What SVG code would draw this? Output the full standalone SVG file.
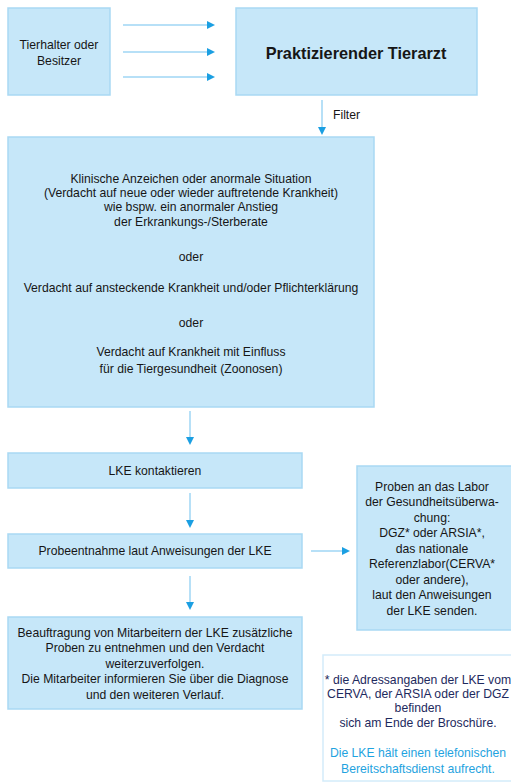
<svg xmlns="http://www.w3.org/2000/svg" width="511" height="782" viewBox="0 0 511 782">
<defs>
<marker id="ah" viewBox="0 0 8 8" refX="1" refY="4" markerWidth="8" markerHeight="8" markerUnits="userSpaceOnUse" orient="auto">
<path d="M0,0 L8,4 L0,8 Z" fill="#1b9fe2"/>
</marker>
<style>
.box{fill:#c6e7f9;stroke:#a9d9f3;stroke-width:1.5}
.note{fill:#ffffff;stroke:#d3ecfa;stroke-width:1.5}
.t{font-family:"Liberation Sans",Arial,sans-serif;font-size:12.2px;fill:#161616;text-anchor:middle}
.b{font-family:"Liberation Sans",Arial,sans-serif;font-size:16.3px;font-weight:bold;fill:#161616;text-anchor:middle}
.n{font-family:"Liberation Sans",Arial,sans-serif;font-size:12.2px;fill:#1e2a5e;text-anchor:middle}
.nb{font-family:"Liberation Sans",Arial,sans-serif;font-size:12.2px;fill:#1fa3e0;text-anchor:middle}
.c{stroke:#9fd6f4;stroke-width:1.5;fill:none;marker-end:url(#ah)}
</style>
</defs>
<g id="connectors">
<line class="c" x1="123" y1="25" x2="208" y2="25"/>
<line class="c" x1="123" y1="52" x2="208" y2="52"/>
<line class="c" x1="123" y1="77" x2="208" y2="77"/>
<line class="c" x1="322" y1="100" x2="322" y2="128"/>
<text x="333" y="119" font-family="Liberation Sans, Arial, sans-serif" font-size="12.2" fill="#161616">Filter</text>
<line class="c" x1="190" y1="411" x2="190" y2="438"/>
<line class="c" x1="190" y1="493" x2="190" y2="521"/>
<line class="c" x1="190" y1="576" x2="190" y2="603"/>
<line class="c" x1="311" y1="551" x2="343" y2="551"/>
</g>
<g id="tierhalter">
<rect class="box" x="8" y="8" width="102" height="87"/>
<text class="t" x="59" y="49">Tierhalter oder</text>
<text class="t" x="59" y="65">Besitzer</text>
</g>
<g id="tierarzt">
<rect class="box" x="236" y="8" width="241" height="87"/>
<text class="b" x="356" y="59">Praktizierender Tierarzt</text>
</g>
<g id="anzeichen">
<rect class="box" x="8" y="137" width="366" height="270"/>
<text class="t" x="191" y="183">Klinische Anzeichen oder anormale Situation</text>
<text class="t" x="191" y="197">(Verdacht auf neue oder wieder auftretende Krankheit)</text>
<text class="t" x="191" y="211">wie bspw. ein anormaler Anstieg</text>
<text class="t" x="191" y="226">der Erkrankungs-/Sterberate</text>
<text class="t" x="191" y="261">oder</text>
<text class="t" x="191" y="292">Verdacht auf ansteckende Krankheit und/oder Pflichterklärung</text>
<text class="t" x="191" y="327">oder</text>
<text class="t" x="191" y="356">Verdacht auf Krankheit mit Einfluss</text>
<text class="t" x="191" y="373">für die Tiergesundheit (Zoonosen)</text>
</g>
<g id="lke">
<rect class="box" x="8" y="453" width="294" height="35"/>
<text class="t" x="155" y="475">LKE kontaktieren</text>
</g>
<g id="probeentnahme">
<rect class="box" x="8" y="534" width="294" height="34"/>
<text class="t" x="155" y="555">Probeentnahme laut Anweisungen der LKE</text>
</g>
<g id="labor">
<rect class="box" x="357" y="466" width="160" height="164"/>
<text class="t" x="432" y="491">Proben an das Labor</text>
<text class="t" x="432" y="506">der Gesundheitsüberwa-</text>
<text class="t" x="432" y="522">chung:</text>
<text class="t" x="432" y="537">DGZ* oder ARSIA*,</text>
<text class="t" x="432" y="553">das nationale</text>
<text class="t" x="432" y="568">Referenzlabor(CERVA*</text>
<text class="t" x="432" y="584">oder andere),</text>
<text class="t" x="432" y="599">laut den Anweisungen</text>
<text class="t" x="432" y="615">der LKE senden.</text>
</g>
<g id="beauftragung">
<rect class="box" x="8" y="617" width="294" height="92"/>
<text class="t" x="155" y="637">Beauftragung von Mitarbeitern der LKE zusätzliche</text>
<text class="t" x="155" y="652">Proben zu entnehmen und den Verdacht</text>
<text class="t" x="155" y="668">weiterzuverfolgen.</text>
<text class="t" x="155" y="683">Die Mitarbeiter informieren Sie über die Diagnose</text>
<text class="t" x="155" y="699">und den weiteren Verlauf.</text>
</g>
<g id="hinweis">
<rect class="note" x="323" y="655" width="200" height="126"/>
<text class="n" x="418" y="684">* die Adressangaben der LKE vom</text>
<text class="n" x="418" y="698">CERVA, der ARSIA oder der DGZ</text>
<text class="n" x="418" y="712">befinden</text>
<text class="n" x="418" y="727">sich am Ende der Broschüre.</text>
<text class="nb" x="418" y="757">Die LKE hält einen telefonischen</text>
<text class="nb" x="418" y="773">Bereitschaftsdienst aufrecht.</text>
</g>
</svg>
